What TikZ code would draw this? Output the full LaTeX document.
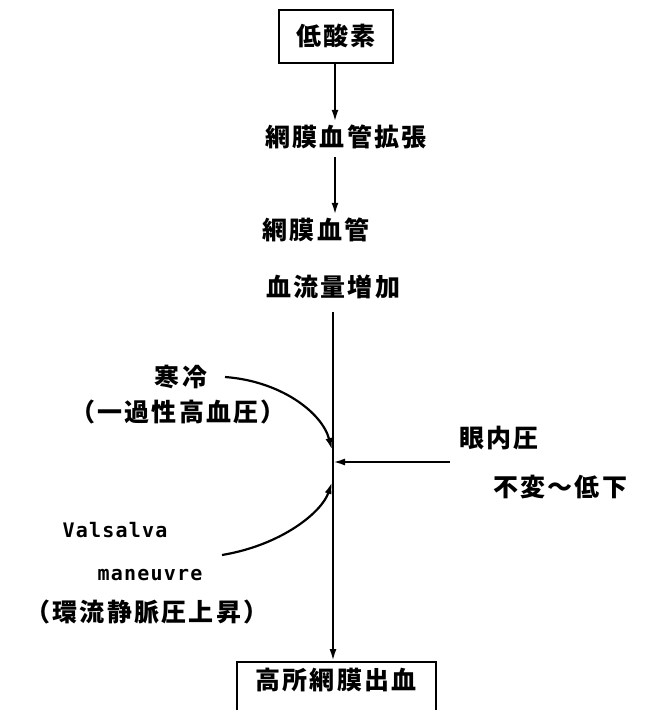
\documentclass[tikz,border=0pt]{standalone}
\usepackage{fontspec}
\newfontfamily\jp[LetterSpace=9]{Noto Sans CJK JP}
\newfontfamily\lt[LetterSpace=6]{DejaVu Sans Mono}
\usetikzlibrary{arrows.meta}
\begin{document}
\begin{tikzpicture}[x=1pt,y=-1pt,
  jtxt/.style={font=\jp\bfseries\fontsize{25}{27}\selectfont, inner sep=3pt},
  ltxt/.style={font=\lt\bfseries\fontsize{20}{22}\selectfont, inner sep=3pt},
  boxed/.style={draw, line width=2pt},
  arr/.style={line width=2.2pt, -{Latex[length=12pt,width=7pt]}},
  ln/.style={line width=2.2pt}]
\useasboundingbox[fill=white] (0,0) rectangle (654,710);

\node[jtxt, boxed, minimum width=114pt, minimum height=53pt] (hypo) at (336,36) {低酸素};
\node[jtxt] (dil) at (346,137) {網膜血管拡張};
\node[jtxt] (ves) at (316,230) {網膜血管};
\node[jtxt] (flow) at (333,287) {血流量増加};
\node[jtxt] (cold) at (181,377) {寒冷};
\node[jtxt] (htn) at (178,412) {（一過性高血圧）};
\node[jtxt] (iop) at (499,438) {眼内圧};
\node[jtxt] (nochg) at (560,487) {不変〜低下};
\node[ltxt] (vals) at (115,530) {Valsalva};
\node[ltxt] (man) at (150,575) {maneuvre};
\node[jtxt] (vpr) at (147,612) {（環流静脈圧上昇）};
\node[jtxt, boxed, anchor=north, minimum width=199pt, text height=24pt, text depth=30pt] (hrh) at (336,661) {高所網膜出血};

\coordinate (top) at (333,312);
\coordinate (j1) at (332,450);
\coordinate (j2) at (333,462);
\coordinate (j3) at (332,482);
\coordinate (coldend) at (225,377);
\coordinate (iopend) at (450,462);
\coordinate (valsend) at (222,555);

\draw[arr] (hypo.south -| 335,0) -- (dil.north -| 335,0);
\draw[arr] (dil.south -| 335,0) ++(0,5) -- (ves.north -| 335,0);
\draw[arr] (top) -- (hrh.north -| top);
\draw[arr] (coldend) .. controls (280,381) and (322,412) .. (j1);
\draw[arr] (iopend) -- (j2);
\draw[arr] (valsend) .. controls (282,545) and (322,512) .. (j3);
\end{tikzpicture}
\end{document}
